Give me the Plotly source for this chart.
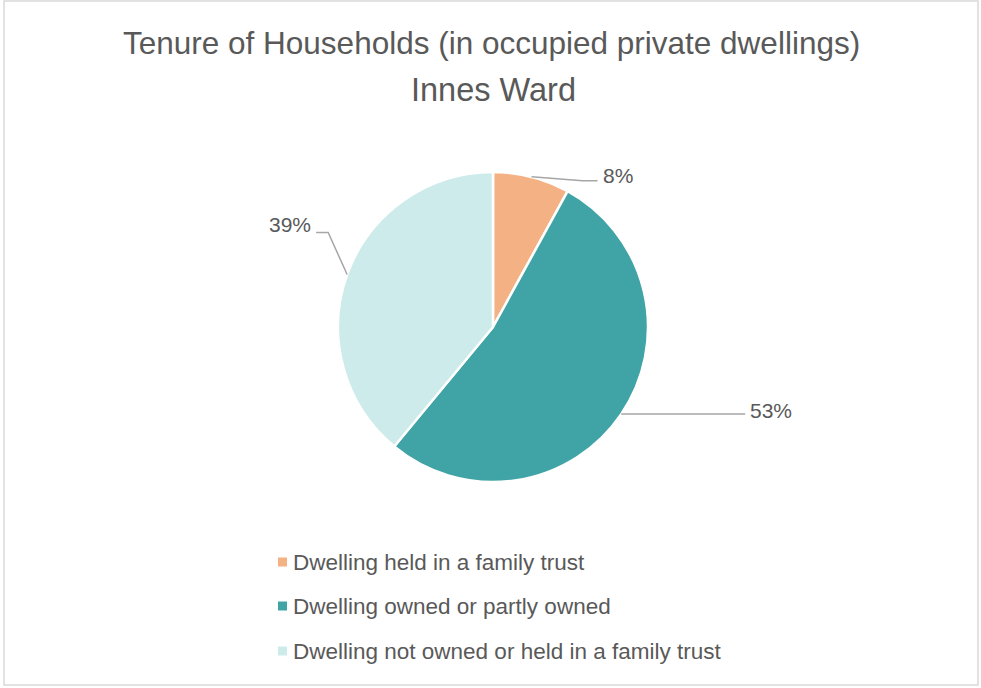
import math
import plotly.graph_objects as go

# ---- data ----
categories = ["Dwelling held in a family trust",
              "Dwelling owned or partly owned",
              "Dwelling not owned or held in a family trust"]
values = [8, 53, 39]
colors = ["#F4B183", "#40A4A6", "#CDEBEA"]

title_main = "Tenure of Households"
title_sub = "(in occupied private dwellings)"
title_line2 = "Innes Ward"

# ---- geometry (pixels) ----
W, H = 981, 688
CX, CY, R = 493, 327, 155
FONT = "Liberation Sans"
TXT = "#595959"
LINE = "#A6A6A6"

def px(x):
    return x / W

def py(y):
    return 1 - y / H

fig = go.Figure(go.Pie(
    labels=categories, values=values, sort=False, direction="clockwise",
    rotation=0, textinfo="none", hoverinfo="label+percent",
    marker=dict(colors=colors, line=dict(color="white", width=2.5)),
    domain=dict(x=[px(CX - R), px(CX + R)], y=[py(CY + R), py(CY - R)]),
    showlegend=False,
))

# leader-line layout per slice: (elbow dx, elbow dy, horizontal run, side, text dy)
label_layout = [(51, 4, 15, 1, -5), (0, 0, 124, 1, -4), (-19, -42, -12, -1, -8)]

total = sum(values)
shapes, annotations = [], []
cum = 0
for v, (edx, edy, run, side, tdy) in zip(values, label_layout):
    mid = (cum + v / 2) / total * 2 * math.pi
    cum += v
    ex = CX + R * math.sin(mid)
    ey = CY - R * math.cos(mid)
    bx, by = ex + edx, ey + edy
    tx = bx + run
    shapes.append(dict(type="path", xref="paper", yref="paper",
                       path=f"M {px(ex)} {py(ey)} L {px(bx)} {py(by)} L {px(tx)} {py(by)}",
                       line=dict(color=LINE, width=1.5)))
    pct = round(v / total * 100)
    annotations.append(dict(text=f"{pct}%", xref="paper", yref="paper",
                            x=px(tx + 3 * side), y=py(by + tdy),
                            xanchor="left" if side > 0 else "right", yanchor="middle",
                            showarrow=False, font=dict(family=FONT, size=21, color=TXT)))

# custom legend
legend_y = [562, 606, 651]
for cat, col, ly in zip(categories, colors, legend_y):
    shapes.append(dict(type="rect", xref="paper", yref="paper",
                       x0=px(278), x1=px(287), y0=py(ly + 4.5), y1=py(ly - 4.5),
                       fillcolor=col, line=dict(width=0)))
    annotations.append(dict(text=cat, xref="paper", yref="paper",
                            x=px(291), y=py(ly), xanchor="left", yanchor="middle",
                            showarrow=False, font=dict(family=FONT, size=22.5, color=TXT)))

# title (two lines as separate annotations for exact spacing)
annotations.append(dict(text=f"{title_main} {title_sub}", xref="paper", yref="paper",
                        x=px(491.5), y=py(43), xanchor="center", yanchor="middle",
                        showarrow=False, font=dict(family=FONT, size=31.5, color=TXT)))
annotations.append(dict(text=title_line2, xref="paper", yref="paper",
                        x=px(493), y=py(90), xanchor="center", yanchor="middle",
                        showarrow=False, font=dict(family=FONT, size=32.5, color=TXT)))

# chart border
shapes.append(dict(type="rect", xref="paper", yref="paper",
                   x0=px(4), x1=px(978), y0=py(685), y1=py(1),
                   line=dict(color="#D9D9D9", width=1.5)))

fig.update_layout(
    width=W, height=H,
    margin=dict(l=0, r=0, t=0, b=0),
    paper_bgcolor="white", plot_bgcolor="white",
    shapes=shapes, annotations=annotations,
)

fig.write_html("out.html", config={"displayModeBar": False},
               post_script="document.body.style.margin='0';")
